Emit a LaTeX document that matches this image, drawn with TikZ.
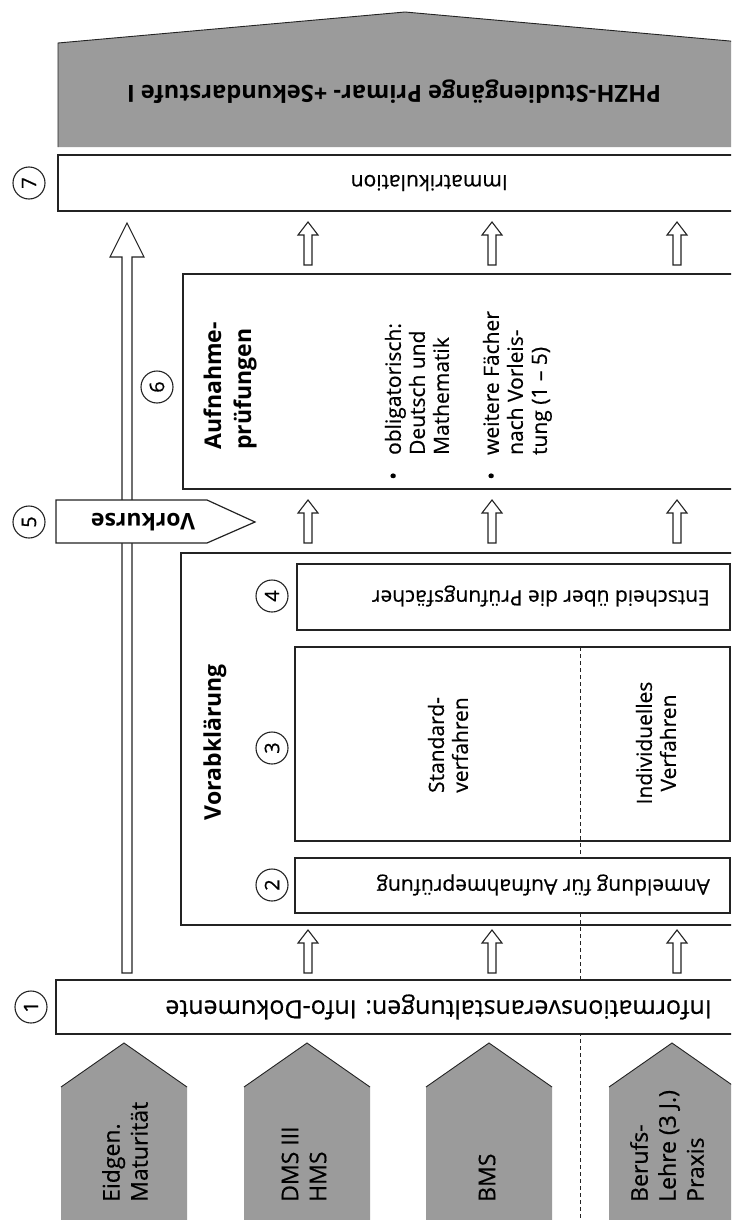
\documentclass[tikz,border=0pt]{standalone}
\usepackage{fontspec}
\setmainfont{Open Sans}[UprightFeatures={FakeBold=0.5}]
\definecolor{boxgray}{RGB}{155,155,155}
\definecolor{linegray}{RGB}{35,35,35}
\tikzset{
  uparr/.pic={\draw[arrline,fill=white] (0,0) -- (10,13) -- (4,13) -- (4,43) -- (-4,43) -- (-4,13) -- (-10,13) -- cycle;}
}
\begin{document}
\begin{tikzpicture}[x=1pt,y=-1pt,
    arrline/.style={draw=linegray,line width=1.1pt},
    stage/.style={draw=linegray,fill=white,line width=1.2pt},
    num/.style={circle,draw=linegray,line width=1.1pt,minimum size=32pt,inner sep=0pt,rotate=90,font=\fontsize{20}{20}\selectfont},
    txt/.style={inner sep=0pt,font=\fontsize{21}{24}\selectfont},
    head/.style={inner sep=0pt,font=\fontsize{23}{30}\selectfont\bfseries},
    entry/.style={inner sep=0pt,align=left,font=\fontsize{23}{28}\selectfont}]
  \clip (0,0) rectangle (731,1220);
  % Ziel oben
  \fill[boxgray] (58,147) -- (58,43) -- (405,12) -- (752,43) -- (752,147) -- cycle;
  \draw[linegray,line width=0.9pt] (58,147) -- (58,43) -- (405,12) -- (752,43);
  \node[head,rotate=180,font=\fontsize{23.6}{30}\selectfont\bfseries] (phzh) at (394,92) {PHZH-Studiengänge Primar- +Sekundarstufe I};
  % 7
  \draw[stage,line width=1.5pt] (58,155) rectangle (760,211);
  \node[num] (n7) at (29,183) {7};
  \node[txt,rotate=180,anchor=west] (immat) at (508,183) {Immatrikulation};
  % Pfeile
  \draw[arrline,fill=white] (127,223) -- (144,257) -- (132,257) -- (132,973) -- (122,973) -- (122,257) -- (110,257) -- cycle;
  \pic at (308,222) {uparr};
  \pic at (492,222) {uparr};
  \pic at (677,222) {uparr};
  \pic at (308,500) {uparr};
  \pic at (492,500) {uparr};
  \pic at (677,500) {uparr};
  \pic at (308,930) {uparr};
  \pic at (492,930) {uparr};
  \pic at (677,930) {uparr};
  % 6
  \draw[stage] (183,274) rectangle (760,489);
  \node[num] (n6) at (157,387) {6};
  \node[head,rotate=90,anchor=west,align=left] (aufn) at (230,450) {Aufnahme-\\prüfungen};
  \node[txt,rotate=90,anchor=west] (obl) at (420,480)
    {\begin{tabular}{@{}l@{\hspace{17pt}}l@{}}\textbullet & obligatorisch:\\ & Deutsch und\\ & Mathematik\end{tabular}};
  \node[txt,rotate=90,anchor=west] (weit) at (518,480)
    {\begin{tabular}{@{}l@{\hspace{17pt}}l@{}}\textbullet & weitere Fächer\\ & nach Vorleis-\\ & tung (1 – 5)\end{tabular}};
  % 5
  \draw[stage] (56,500) -- (207,500) -- (255,522) -- (207,543) -- (56,543) -- cycle;
  \node[num] (n5) at (29,522) {5};
  \node[head,rotate=180] (vork) at (143,522) {Vorkurse};
  % Vorabklaerung
  \draw[stage] (181,553) rectangle (760,925);
  \node[head,rotate=90] (vorab) at (215,742) {Vorabklärung};
  \draw[stage] (297,564) rectangle (730,630);
  \node[num] (n4) at (272,596) {4};
  \node[txt,rotate=180,anchor=west] (entsch) at (710,596) {Entscheid über die Prüfungsfächer};
  \draw[stage] (295,647) rectangle (730,841);
  \node[num] (n3) at (272,748) {3};
  \node[txt,rotate=90,align=center] (std) at (448,745) {Standard-\\verfahren};
  \node[txt,rotate=90,align=center] (indiv) at (656,743) {Individuelles\\Verfahren};
  \draw[linegray,line width=0.9pt,dash pattern=on 4pt off 3pt] (580,647) -- (580,1220);
  \draw[stage] (295,858) rectangle (730,913);
  \node[num] (n2) at (272,885) {2};
  \node[txt,rotate=180,anchor=west] (anm) at (710,885) {Anmeldung für Aufnahmeprüfung};
  % 1
  \draw[stage,line width=2.6pt] (56,980) rectangle (760,1034);
  \node[num] (n1) at (31,1007) {1};
  \node[txt,rotate=180,anchor=west,font=\fontsize{25}{26}\selectfont] (info) at (712,1007) {Informationsveranstaltungen: Info-Dokumente};
  % Zubringer
  \fill[boxgray] (61,1225) -- (61,1087) -- (124,1043) -- (187,1087) -- (187,1225) -- cycle;
  \draw[linegray,line width=0.9pt] (61,1087) -- (124,1043) -- (187,1087);
  \fill[boxgray] (244,1225) -- (244,1087) -- (307,1043) -- (370,1087) -- (370,1225) -- cycle;
  \draw[linegray,line width=0.9pt] (244,1087) -- (307,1043) -- (370,1087);
  \fill[boxgray] (426,1225) -- (426,1087) -- (489,1043) -- (552,1087) -- (552,1225) -- cycle;
  \draw[linegray,line width=0.9pt] (426,1087) -- (489,1043) -- (552,1087);
  \fill[boxgray] (609,1225) -- (609,1087) -- (672,1043) -- (735,1087) -- (735,1225) -- cycle;
  \draw[linegray,line width=0.9pt] (609,1087) -- (672,1043) -- (735,1087);
  \node[entry,rotate=90,anchor=west] (eidg) at (125,1202) {Eidgen.\\Maturität};
  \node[entry,rotate=90,anchor=west] (dms) at (304,1202) {DMS III\\HMS};
  \node[entry,rotate=90,anchor=west] (bms) at (487,1202) {BMS};
  \node[entry,rotate=90,anchor=west] (beruf) at (667,1202) {Berufs-\\Lehre (3 J.)\\Praxis};
\end{tikzpicture}
\end{document}
